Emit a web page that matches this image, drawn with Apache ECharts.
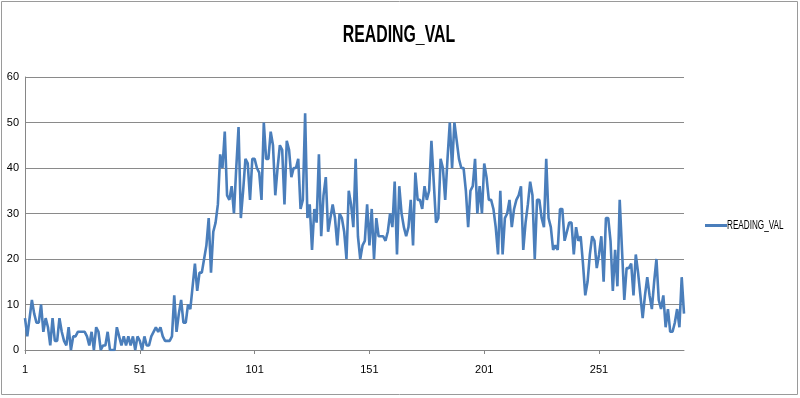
<!DOCTYPE html>
<html><head><meta charset="utf-8">
<script src="https://cdn.jsdelivr.net/npm/echarts@6/dist/echarts.min.js"></script>
<style>html,body{margin:0;padding:0;background:#fff}#c{width:800px;height:398px}</style>
</head><body><div id="c"></div>
<script>
const title = "READING_VAL";
const seriesName = "READING_VAL";
const readingVal = [
7,3,7,11,8,6,6,10,4,7,
5,1,7,2,2,7,4,2,1,5,
0,3,3,4,4,4,4,3,1,4,
0,5,4,0,1,1,4,0,0,0,
5,3,1,3,1,3,1,3,0,3,
2,0,3,1,1,3,4,5,4,5,
3,2,2,2,3,12,4,8,11,6,
6,10,9,14,19,13,17,17,20,23,
29,17,26,28,32,43,40,48,34,33,
36,30,40,49,29,35,42,41,33,42,
42,40,39,33,50,42,42,48,45,34,
40,45,44,32,46,44,38,40,40,42,
31,33,52,29,32,22,31,28,43,25,
34,38,26,29,32,29,23,30,29,26,
20,35,32,27,42,25,20,23,24,32,
23,31,20,29,25,25,25,24,26,30,
27,37,21,36,30,27,25,27,33,23,
39,33,33,31,36,33,35,46,37,28,
29,42,40,33,42,50,40,50,46,42,
40,40,35,27,35,36,42,30,36,30,
41,38,33,33,31,27,21,35,21,29,
30,33,27,31,33,34,36,22,28,32,
37,34,20,33,33,29,27,42,29,27,
22,23,22,31,31,24,26,28,28,21,
27,24,25,19,12,15,21,25,24,18,
21,25,15,29,29,24,13,22,14,33,
22,11,18,18,19,12,21,17,12,7,
12,16,12,9,15,20,11,9,12,5,
9,4,4,6,9,5,16,8
];
const categories = readingVal.map((v, i) => String(i + 1));
const lineColor = '#4a7ebb';

const chart = echarts.init(document.getElementById('c'), null, {renderer: 'canvas'});
chart.setOption({
  animation: false,
  backgroundColor: '#fff',
  graphic: [
    {type: 'rect', shape: {x: 1.5, y: 1.5, width: 796, height: 393},
     style: {fill: 'none', stroke: '#9a9a9a', lineWidth: 1}, silent: true},
    {type: 'text', x: 399, y: 35, scaleX: 0.66, scaleY: 1,
     style: {text: title, font: 'bold 24px "Liberation Sans", Arial, sans-serif', fill: '#000',
             align: 'center', verticalAlign: 'middle'}},
    {type: 'rect', shape: {x: 705, y: 224, width: 22, height: 3}, style: {fill: lineColor}},
    {type: 'text', x: 727, y: 226, scaleX: 0.68, scaleY: 1,
     style: {text: seriesName, font: '12px "Liberation Sans", Arial, sans-serif', fill: '#000',
             align: 'left', verticalAlign: 'middle'}}
  ],
  grid: {left: 25, right: 116, top: 77, bottom: 48, containLabel: false},
  xAxis: {
    type: 'category', data: categories, boundaryGap: false,
    axisLine: {lineStyle: {color: '#868686', width: 1}},
    axisTick: {show: true, interval: 49, length: 4, lineStyle: {color: '#868686'}},
    axisLabel: {interval: 49, color: '#000', fontSize: 11, margin: 14, fontFamily: 'Liberation Sans, sans-serif'},
    splitLine: {show: false}
  },
  yAxis: {
    type: 'value', min: 0, max: 60, interval: 10,
    axisLine: {show: true, lineStyle: {color: '#868686'}},
    axisTick: {show: false},
    axisLabel: {color: '#000', fontSize: 11, margin: 6, fontFamily: 'Liberation Sans, sans-serif'},
    splitLine: {lineStyle: {color: '#8a8a8a', width: 1.2}}
  },
  series: [{
    name: seriesName, type: 'line', data: readingVal, showSymbol: false, symbol: 'none',
    lineStyle: {color: lineColor, width: 2.6}, itemStyle: {color: lineColor}
  }]
});
</script></body></html>
